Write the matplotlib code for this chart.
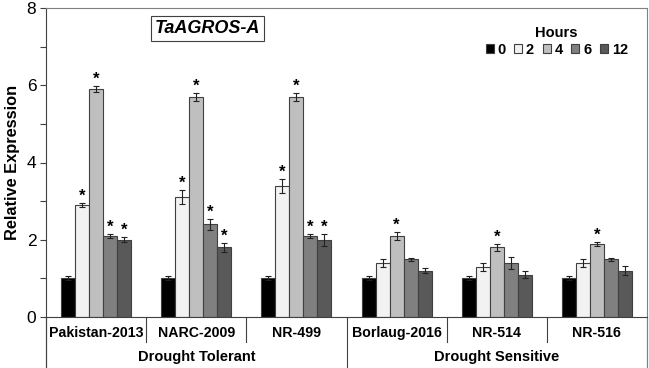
import matplotlib
matplotlib.use("Agg")
import matplotlib.pyplot as plt
import numpy as np

plt.rcParams["font.family"] = ["Liberation Sans", "DejaVu Sans"]

GENOTYPES = ["Pakistan-2013", "NARC-2009", "NR-499", "Borlaug-2016", "NR-514", "NR-516"]
GROUPS = ["Drought Tolerant", "Drought Sensitive"]
HOURS = ["0", "2", "4", "6", "12"]

# rows: genotypes, cols: hours
MEANS = [
    [1.0, 2.9, 5.9, 2.1, 2.0],
    [1.0, 3.1, 5.7, 2.4, 1.8],
    [1.0, 3.4, 5.7, 2.1, 2.0],
    [1.0, 1.4, 2.1, 1.5, 1.2],
    [1.0, 1.3, 1.8, 1.4, 1.1],
    [1.0, 1.4, 1.9, 1.5, 1.2],
]
ERRS = [
    [0.05, 0.05, 0.07, 0.05, 0.06],
    [0.05, 0.18, 0.10, 0.15, 0.12],
    [0.05, 0.18, 0.10, 0.06, 0.15],
    [0.05, 0.10, 0.10, 0.04, 0.06],
    [0.05, 0.10, 0.10, 0.15, 0.10],
    [0.05, 0.10, 0.05, 0.04, 0.12],
]
SIGNIF = [
    [0, 1, 1, 1, 1],
    [0, 1, 1, 1, 1],
    [0, 1, 1, 1, 1],
    [0, 0, 1, 0, 0],
    [0, 0, 1, 0, 0],
    [0, 0, 1, 0, 0],
]

COLORS = ["#000000", "#f2f2f2", "#bfbfbf", "#808080", "#595959"]

means = np.array(MEANS)
errs = np.array(ERRS)
sig = np.array(SIGNIF)

fig = plt.figure(figsize=(6.49, 3.68), dpi=100)
ax = fig.add_axes([46 / 649, 1 - 317 / 368, 601 / 649, 309 / 368])

n_g = len(GENOTYPES)
width = 0.14
centers = np.arange(n_g) + 0.5

for j, hour in enumerate(HOURS):
    x = centers + (j - 2) * width
    ax.bar(x, means[:, j], width=width, color=COLORS[j], edgecolor="#404040",
           linewidth=0.8, label=hour, zorder=2)
    ax.errorbar(x, means[:, j], yerr=errs[:, j], fmt="none", ecolor="#222222",
                elinewidth=0.8, capsize=2, capthick=0.8, zorder=3)
    for i in range(n_g):
        if sig[i, j]:
            ax.text(x[i], means[i, j] + errs[i, j] - 0.02, "*", ha="center",
                    va="bottom", fontsize=12, fontweight="bold")

ax.set_xlim(0, n_g)
ax.set_ylim(0, 8)
ax.set_yticks(np.arange(0, 9, 2))
ax.set_yticks(np.arange(1, 8, 2), minor=True)
ax.tick_params(axis="y", which="both", direction="out", length=4, width=0.8,
               labelsize=12.5, color="#404040", pad=3)
ax.set_xticks([])

for s in ["top", "right"]:
    ax.spines[s].set_color("#808080")
ax.spines["left"].set_color("#404040")
ax.spines["bottom"].set_color("#404040")
ax.spines["right"].set_bounds(-1.65, 8)
ax.spines["left"].set_bounds(-1.65, 8)

ax.set_ylabel("Relative Expression", fontsize=11.8, fontweight="bold", labelpad=5)

# category and group labels below the axis
trans = ax.get_xaxis_transform()
for i, name in enumerate(GENOTYPES):
    ax.text(centers[i], -0.053, name, transform=trans, ha="center", va="center",
            fontsize=10.2, fontweight="bold")
for k, g in enumerate(GROUPS):
    ax.text(k * 3 + 1.5, -0.128, g, transform=trans, ha="center", va="center",
            fontsize=10.5, fontweight="bold")
for b in range(1, n_g):
    low = -0.165 if b == 3 else -0.08
    ax.plot([b, b], [0, low], transform=trans, color="#404040", lw=0.8,
            clip_on=False)
ax.plot([0, 0], [0, -0.165], transform=trans, color="#404040", lw=0.8, clip_on=False)
ax.plot([n_g, n_g], [0, -0.165], transform=trans, color="#808080", lw=0.8, clip_on=False)

ax.text(0.269, 0.935, "TaAGROS-A", transform=ax.transAxes, ha="center", va="center",
        fontsize=13, fontweight="bold", fontstyle="italic",
        bbox=dict(boxstyle="square,pad=0.22", facecolor="white", edgecolor="#404040",
                  linewidth=0.8))

leg = ax.legend(title="Hours", ncol=5, loc="upper right", bbox_to_anchor=(0.985, 0.975),
                frameon=False, handlelength=0.55, handleheight=0.55, handletextpad=0.25,
                columnspacing=0.6, borderpad=0.2, labelspacing=0.2,
                prop={"weight": "bold", "size": 10.5},
                title_fontproperties={"weight": "bold", "size": 10.5})

fig.savefig("out.png", dpi=100)
